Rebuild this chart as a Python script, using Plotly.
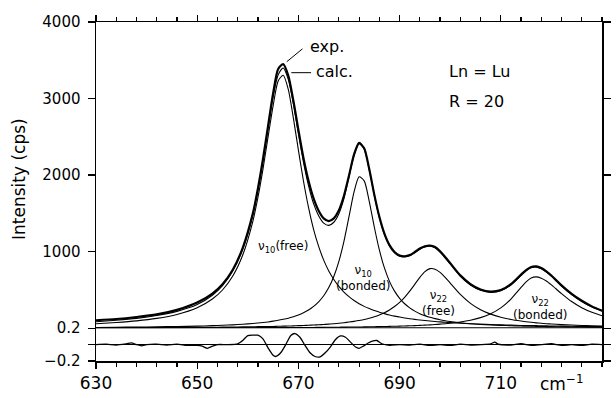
import plotly.graph_objects as go

# ---------------- data ----------------
wavenumber = [630, 634, 638, 642, 646, 650, 653, 655, 657, 659, 661, 662, 663, 664, 665,
              666, 667, 668, 669, 670, 671, 672, 673, 674, 675, 676, 677, 678, 679, 680,
              681, 682, 683, 684, 685, 686, 687, 688, 689, 690, 691, 692, 693, 694, 695,
              696, 697, 698, 699, 700, 702, 704, 706, 708, 710, 712, 714, 715, 716, 717,
              718, 719, 720, 722, 724, 726, 728, 730]

exp_intensity = [104, 120, 146, 180, 240, 335, 452, 575, 760, 1050, 1500, 1825, 2210, 2640, 3065,
                 3385, 3450, 3300, 2975, 2590, 2225, 1925, 1695, 1535, 1435, 1400, 1435, 1540, 1730, 1995,
                 2270, 2420, 2350, 2080, 1745, 1455, 1235, 1085, 995, 950, 940, 955, 995, 1040, 1070,
                 1080, 1060, 1005, 930, 850, 690, 575, 505, 478, 498, 575, 700, 760, 800, 808,
                 785, 742, 688, 560, 448, 358, 285, 230]

calc_intensity = [85, 104, 128, 165, 220, 310, 431, 556, 743, 1031, 1481, 1802, 2181, 2607, 3025,
                  3310, 3400, 3250, 2936, 2541, 2170, 1863, 1627, 1469, 1373, 1343, 1384, 1496, 1693, 1975,
                  2255, 2410, 2340, 2068, 1735, 1445, 1225, 1075, 985, 940, 930, 945, 985, 1030, 1060,
                  1070, 1050, 995, 920, 840, 680, 565, 495, 468, 488, 565, 690, 750, 790, 798,
                  775, 732, 678, 550, 438, 348, 276, 222]

nu10_free = [59, 75, 96, 128, 179, 267, 381, 499, 678, 956, 1396, 1708, 2079, 2496, 2903,
             3230, 3305, 3120, 2747, 2326, 1923, 1577, 1291, 1068, 889, 747, 636, 545, 472, 412,
             362, 320, 285, 256, 230, 209, 190, 173, 158, 146, 134, 124, 115, 107, 100,
             93, 87, 82, 77, 73, 65, 58, 52, 48, 43, 40, 36, 35, 34, 33,
             31, 30, 29, 27, 25, 23, 22, 20]

nu10_bonded = [10, 12, 15, 18, 22, 27, 33, 38, 44, 52, 61, 67, 74, 82, 92,
               103, 116, 131, 150, 173, 202, 238, 285, 345, 424, 531, 676, 873, 1135, 1457,
               1781, 1978, 1925, 1658, 1322, 1022, 787, 612, 484, 390, 319, 265, 223, 190, 164,
               142, 125, 110, 98, 88, 71, 59, 50, 43, 37, 32, 28, 27, 25, 24,
               22, 21, 20, 18, 16, 15, 14, 13]

nu22_free = [5, 6, 7, 8, 9, 11, 12, 14, 15, 17, 18, 20, 21, 22, 23,
             25, 27, 28, 30, 33, 35, 38, 41, 45, 49, 53, 59, 65, 72, 80,
             89, 101, 114, 130, 149, 173, 202, 238, 283, 338, 404, 484, 573, 664, 739,
             778, 771, 730, 665, 589, 441, 325, 242, 184, 143, 114, 93, 84, 77, 70,
             64, 59, 55, 47, 41, 36, 31, 28]

nu22_bonded = [3, 3, 3, 4, 4, 5, 5, 5, 6, 6, 6, 7, 7, 7, 7,
               8, 8, 8, 9, 9, 10, 10, 10, 11, 11, 12, 13, 13, 14, 15,
               15, 16, 17, 18, 19, 21, 22, 24, 25, 27, 29, 31, 34, 37, 40,
               44, 48, 53, 58, 65, 81, 104, 138, 188, 265, 381, 532, 605, 656, 670,
               653, 617, 566, 452, 348, 267, 207, 163]

resid_wavenumber = [630, 632, 634, 636, 637, 638, 639, 640, 642, 644, 646, 648, 650, 651, 652,
                    653, 654, 656, 658, 659, 660, 661, 662, 663, 664, 665, 665.5, 666.5, 667.5, 668.5,
                    669.3, 670.3, 671.3, 672.3, 673.3, 674.3, 675.3, 676.3, 677.3, 678.3, 679.3, 680.3,
                    681.3, 682, 682.8, 683.8, 684.8, 685.5, 686.5, 688, 690, 692, 694, 696, 698,
                    700, 702, 704, 706, 708, 708.8, 709.5, 712, 714, 716, 718, 720, 722, 724,
                    726, 728, 730]
residual = [0.0, 0.005, -0.005, 0.01, 0.02, 0.0, -0.015, 0.0, 0.005, -0.005, 0.005, -0.01, -0.01, -0.02, -0.045,
            -0.02, 0.0, 0.0, 0.01, 0.05, 0.11, 0.115, 0.115, 0.07, -0.04, -0.13, -0.145, -0.10, 0.0, 0.11,
            0.135, 0.09, -0.01, -0.10, -0.145, -0.15, -0.10, -0.03, 0.06, 0.105, 0.09, 0.03,
            -0.03, -0.045, -0.02, 0.02, 0.045, 0.05, 0.01, -0.01, 0.0, -0.005, 0.005, -0.01, 0.0,
            -0.01, 0.005, -0.005, 0.0, 0.01, 0.03, 0.005, -0.005, 0.01, -0.01, 0.0, 0.01, -0.01, 0.0,
            -0.01, 0.005, 0.0]

x_tick_vals = [630, 650, 670, 690, 710]
x_tick_text = ["630", "650", "670", "690", "710"]
y_tick_vals = [1000, 2000, 3000, 4000]
y_tick_text = ["1000", "2000", "3000", "4000"]
r_tick_vals = [-0.2, 0.2]
r_tick_text = ["\u22120.2", "0.2"]

# ---------------- figure ----------------
FONT = "DejaVu Sans"
fig = go.Figure()

def add_line(y, width, xaxis="x"):
    fig.add_trace(go.Scatter(x=wavenumber, y=y, mode="lines", xaxis=xaxis, yaxis="y",
                             line=dict(color="black", width=width, shape="spline", smoothing=0.7),
                             showlegend=False, hoverinfo="skip"))

add_line(nu10_free, 1.1, "x2")
add_line(nu10_bonded, 1.1, "x2")
add_line(nu22_free, 1.1, "x2")
add_line(nu22_bonded, 1.1, "x2")
add_line(calc_intensity, 1.1)
add_line(exp_intensity, 2.2)

fig.add_trace(go.Scatter(x=resid_wavenumber, y=residual, mode="lines", xaxis="x", yaxis="y2",
                         line=dict(color="black", width=1.3, shape="spline", smoothing=0.6),
                         showlegend=False, hoverinfo="skip"))

H_RES = 33 / 341
axis_common = dict(showline=True, linecolor="black", linewidth=1.5, ticks="outside",
                   tickcolor="black", tickwidth=1.3, showgrid=False)

fig.update_layout(
    width=616, height=398,
    margin=dict(l=96, r=5, t=22, b=35),
    paper_bgcolor="white", plot_bgcolor="white", showlegend=False,
    font=dict(family=FONT, color="black", size=15),
    xaxis=dict(domain=[0, 1], range=[630, 730], anchor="y2", ticklen=6, zeroline=False,
               tickvals=x_tick_vals, ticktext=x_tick_text, tickfont=dict(size=17),
               minor=dict(ticks="outside", ticklen=4, tickwidth=1.2, tickcolor="black",
                          tick0=630, dtick=4),
               **axis_common),
    xaxis2=dict(domain=[0, 1], range=[630, 730], anchor="y", overlaying="x", side="top",
                ticklen=6, tickvals=x_tick_vals, showticklabels=False, zeroline=False,
                minor=dict(ticks="outside", ticklen=4, tickwidth=1.2, tickcolor="black",
                           tick0=630, dtick=4),
                **axis_common),
    yaxis=dict(domain=[H_RES, 1], range=[0, 4000], anchor="x", mirror="ticks", ticklen=7,
               tickvals=y_tick_vals, ticktext=y_tick_text, tickfont=dict(size=15),
               ticklabelstandoff=4, zeroline=False, **axis_common),
    yaxis2=dict(domain=[0, H_RES], range=[-0.2, 0.2], anchor="x", mirror="ticks", ticklen=7,
                tickvals=r_tick_vals, ticktext=r_tick_text, tickfont=dict(size=15),
                ticklabelstandoff=4,
                minor=dict(tickvals=[0], ticks="outside", ticklen=7, tickwidth=1.3, tickcolor="black"),
                zeroline=True, zerolinecolor="black", zerolinewidth=1.2,
                **axis_common),
)

# baseline (intensity 0 / residual 0.2)
fig.add_shape(type="line", xref="paper", x0=0, x1=1, yref="y", y0=0, y1=0,
              line=dict(color="black", width=2))

# leader lines for exp. / calc.
fig.add_shape(type="line", xref="x", yref="y", x0=670.8, y0=3649, x1=667.7, y1=3481,
              line=dict(color="black", width=1))
fig.add_shape(type="line", xref="x", yref="y", x0=668.6, y0=3338, x1=672.5, y1=3338,
              line=dict(color="black", width=1))

def note(text, x, y, size, xanchor="left", **kw):
    fig.add_annotation(text=text, x=x, y=y, xref="x", yref="y", showarrow=False,
                       xanchor=xanchor, yanchor="middle", font=dict(family=FONT, size=size, color="black"), **kw)

note("exp.", 671.9, 3675, 16)
note("calc.", 673.0, 3350, 16)
note("Ln = Lu", 699.3, 3351, 16)
note("R = 20", 699.3, 2961, 16)
note("\u03bd<sub>10</sub>(free)", 667.0, 1065, 12, xanchor="center")
note("\u03bd<sub>10</sub><br>(bonded)", 682.8, 650, 12, xanchor="center")
note("\u03bd<sub>22</sub><br>(free)", 697.6, 330, 12, xanchor="center")
note("\u03bd<sub>22</sub><br>(bonded)", 717.8, 280, 12, xanchor="center")

fig.add_annotation(text="cm<sup>\u22121</sup>", x=722.0, y=0, xref="x", yref="paper",
                   yanchor="top", xanchor="center", yshift=-9, showarrow=False,
                   font=dict(family=FONT, size=17, color="black"))

fig.add_annotation(text="Intensity (cps)", x=0, y=1950, xref="paper", yref="y",
                   xanchor="center", yanchor="middle", xshift=-77, textangle=-90,
                   showarrow=False, font=dict(family=FONT, size=17, color="black"))

fig.write_html("out.html", config={"displayModeBar": False, "staticPlot": True},
               post_script="document.body.style.margin='0px';")
